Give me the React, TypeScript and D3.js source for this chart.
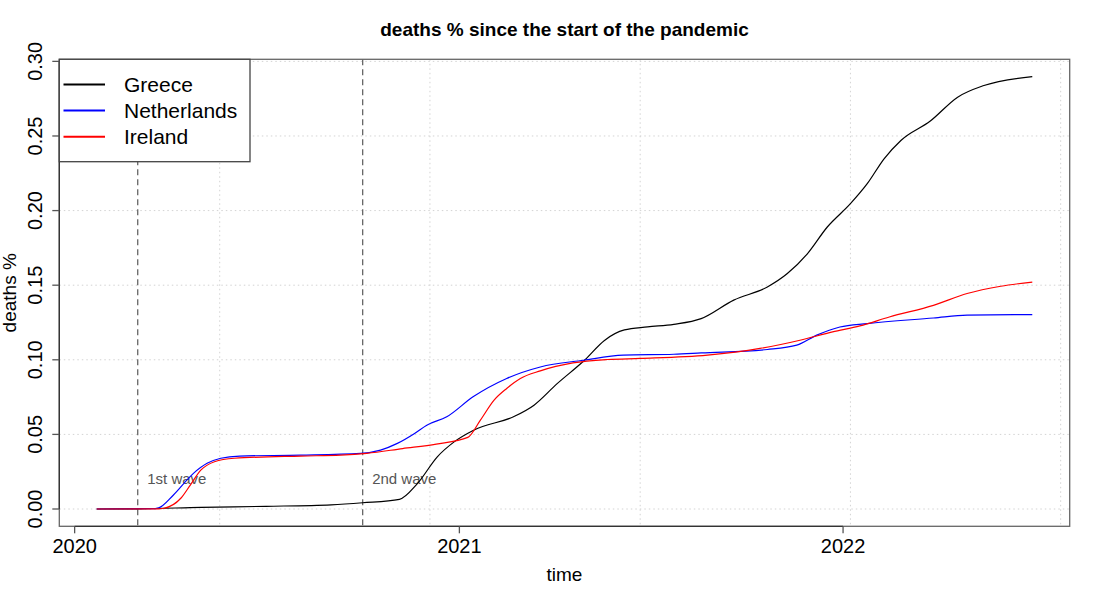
import * as d3 from "d3";
import { useEffect, useRef } from "react";

// cumulative deaths as % of population
const greeceDates = [
  "2020-01-22", "2020-03-01", "2020-04-30", "2020-07-01", "2020-09-01", "2020-10-01",
  "2020-11-05", "2020-11-22", "2020-12-11", "2020-12-27", "2021-01-15", "2021-02-22",
  "2021-03-13", "2021-04-04", "2021-04-30", "2021-05-19", "2021-06-07", "2021-06-29",
  "2021-07-24", "2021-08-19", "2021-09-19", "2021-10-21", "2021-11-09", "2021-11-28",
  "2021-12-17", "2022-01-08", "2022-01-24", "2022-02-09", "2022-02-25", "2022-03-25",
  "2022-04-20", "2022-05-15", "2022-06-30",
];
const greeceValues = [
  0, 0.0001, 0.0011, 0.0018, 0.0028, 0.0042,
  0.0065, 0.017, 0.035, 0.045, 0.053, 0.062,
  0.0696, 0.084, 0.0997, 0.113, 0.12, 0.122,
  0.1238, 0.1276, 0.14, 0.1488, 0.1578, 0.171,
  0.189, 0.2046, 0.218, 0.2347, 0.247, 0.26,
  0.276, 0.2838, 0.2898,
];

const netherlandsDates = [
  "2020-01-22", "2020-03-15", "2020-03-21", "2020-04-04", "2020-04-23", "2020-05-06",
  "2020-05-19", "2020-06-06", "2020-08-03", "2020-09-29", "2020-10-18", "2020-11-03",
  "2020-11-19", "2020-12-01", "2020-12-20", "2021-01-14", "2021-02-15", "2021-03-19",
  "2021-04-29", "2021-06-06", "2021-07-24", "2021-08-19", "2021-10-21", "2021-11-18",
  "2021-12-07", "2021-12-29", "2022-01-24", "2022-03-28", "2022-04-29", "2022-06-30",
];
const netherlandsValues = [
  0, 0.0002, 0.0008, 0.0094, 0.0239, 0.0306,
  0.034, 0.0355, 0.0361, 0.0373, 0.0395, 0.044,
  0.0505, 0.0562, 0.0618, 0.0752, 0.0875, 0.0952,
  0.0997, 0.1031, 0.1037, 0.1046, 0.1069, 0.1098,
  0.1165, 0.122, 0.1243, 0.128, 0.1299, 0.1303,
];

const irelandDates = [
  "2020-01-22", "2020-03-20", "2020-03-26", "2020-04-11", "2020-04-20", "2020-04-30",
  "2020-05-13", "2020-06-01", "2020-08-03", "2020-09-10", "2020-10-05", "2020-11-08",
  "2020-12-10", "2021-01-09", "2021-01-21", "2021-02-03", "2021-02-15", "2021-02-28",
  "2021-03-19", "2021-04-19", "2021-05-22", "2021-06-22", "2021-08-25", "2021-10-14",
  "2021-11-21", "2021-12-22", "2022-01-17", "2022-02-14", "2022-03-28", "2022-04-29",
  "2022-05-31", "2022-06-30",
];
const irelandValues = [
  0, 0.0001, 0.0005, 0.0072, 0.016, 0.026,
  0.0317, 0.034, 0.0355, 0.0361, 0.0373, 0.0405,
  0.0435, 0.048, 0.0596, 0.073, 0.0808, 0.0875,
  0.0926, 0.0979, 0.1002, 0.1009, 0.1031, 0.1076,
  0.1131, 0.1187, 0.1227, 0.1287, 0.1365, 0.1444,
  0.1493, 0.1521,
];

const seriesNames = ["Greece", "Netherlands", "Ireland"];
const seriesColors = ["#000000", "#0000ff", "#ff0000"];

const waveDates = ["2020-03-01", "2020-10-01"];
const waveLabels = ["1st wave", "2nd wave"];

// R grid() lines fall on axTicks of the numeric date (days since 1970)
const gridDays = [18400, 18600, 18800, 19000, 19200];

const FONT = "'Liberation Sans', Arial, Helvetica, sans-serif";

export default function App() {
  const svgRef = useRef<SVGSVGElement | null>(null);

  useEffect(() => {
    const width = 1100;
    const height = 600;
    const box = { left: 59.3, right: 1069.7, top: 59.3, bottom: 526.3 };

    const parse = d3.utcParse("%Y-%m-%d");
    const series = [
      { dates: greeceDates, values: greeceValues },
      { dates: netherlandsDates, values: netherlandsValues },
      { dates: irelandDates, values: irelandValues },
    ].map((s, i) => ({
      name: seriesNames[i],
      color: seriesColors[i],
      points: s.dates.map((d, j) => ({ date: parse(d)!, value: s.values[j] })),
    }));

    const all = series.flatMap((s) => s.points);
    const [t0, t1] = d3.extent(all, (d) => d.date.getTime()) as [number, number];
    const [v0, v1] = d3.extent(all, (d) => d.value) as [number, number];
    // R style 4% padding on both axes
    const tp = (t1 - t0) * 0.04;
    const vp = (v1 - v0) * 0.04;

    const x = d3
      .scaleUtc()
      .domain([new Date(t0 - tp), new Date(t1 + tp)])
      .range([box.left, box.right]);
    const y = d3
      .scaleLinear()
      .domain([v0 - vp, v1 + vp])
      .range([box.bottom, box.top]);

    const svg = d3.select(svgRef.current);
    svg.selectAll("*").remove();
    svg.attr("width", width).attr("height", height);

    svg.append("rect").attr("width", width).attr("height", height).attr("fill", "#fff");

    const yTicks = y.ticks(6);
    const xTicks = x.ticks(d3.utcYear.every(1)!);

    // grid
    svg
      .append("g")
      .selectAll("line")
      .data(yTicks)
      .join("line")
      .attr("x1", box.left)
      .attr("x2", box.right)
      .attr("y1", (d) => y(d))
      .attr("y2", (d) => y(d))
      .attr("stroke", "#d3d3d3")
      .attr("stroke-dasharray", "1.5,3");
    svg
      .append("g")
      .selectAll("line")
      .data(gridDays.map((d) => new Date(d * 864e5)))
      .join("line")
      .attr("x1", (d) => x(d))
      .attr("x2", (d) => x(d))
      .attr("y1", box.top)
      .attr("y2", box.bottom)
      .attr("stroke", "#d3d3d3")
      .attr("stroke-dasharray", "1.5,3");

    // wave markers
    const waves = svg.append("g");
    waveDates.forEach((d, i) => {
      const wx = x(parse(d)!);
      waves
        .append("line")
        .attr("x1", wx)
        .attr("x2", wx)
        .attr("y1", box.top)
        .attr("y2", box.bottom)
        .attr("stroke", "#666")
        .attr("stroke-width", 1.3)
        .attr("stroke-dasharray", "6,4");
      waves
        .append("text")
        .attr("x", wx + 9.5)
        .attr("y", y(0.02))
        .attr("dy", "0.35em")
        .attr("fill", "#555")
        .attr("font-family", FONT)
        .attr("font-size", 15)
        .text(waveLabels[i]);
    });

    // series
    const line = d3
      .line<{ date: Date; value: number }>()
      .x((d) => x(d.date))
      .y((d) => y(d.value))
      .curve(d3.curveMonotoneX);
    svg
      .append("g")
      .selectAll("path")
      .data(series)
      .join("path")
      .attr("d", (d) => line(d.points))
      .attr("fill", "none")
      .attr("stroke", (d) => d.color)
      .attr("stroke-width", 1.2);

    // box
    svg
      .append("rect")
      .attr("x", box.left)
      .attr("y", box.top)
      .attr("width", box.right - box.left)
      .attr("height", box.bottom - box.top)
      .attr("fill", "none")
      .attr("stroke", "#666")
      .attr("stroke-width", 1.3);

    // x axis
    const xa = svg.append("g");
    xa.append("line")
      .attr("x1", x(xTicks[0]))
      .attr("x2", x(xTicks[xTicks.length - 1]))
      .attr("y1", box.bottom)
      .attr("y2", box.bottom)
      .attr("stroke", "#333")
      .attr("stroke-width", 1.3);
    xa.selectAll("line.tick")
      .data(xTicks)
      .join("line")
      .attr("class", "tick")
      .attr("x1", (d) => x(d))
      .attr("x2", (d) => x(d))
      .attr("y1", box.bottom)
      .attr("y2", box.bottom + 7)
      .attr("stroke", "#555")
      .attr("stroke-width", 1.3);
    xa.selectAll("text")
      .data(xTicks)
      .join("text")
      .attr("x", (d) => x(d))
      .attr("y", 553)
      .attr("text-anchor", "middle")
      .attr("font-family", FONT)
      .attr("font-size", 20)
      .text((d) => d3.utcFormat("%Y")(d));

    // y axis
    const ya = svg.append("g");
    ya.append("line")
      .attr("x1", box.left)
      .attr("x2", box.left)
      .attr("y1", y(yTicks[0]))
      .attr("y2", y(yTicks[yTicks.length - 1]))
      .attr("stroke", "#333")
      .attr("stroke-width", 1.3);
    ya.selectAll("line.tick")
      .data(yTicks)
      .join("line")
      .attr("class", "tick")
      .attr("x1", box.left - 7)
      .attr("x2", box.left)
      .attr("y1", (d) => y(d))
      .attr("y2", (d) => y(d))
      .attr("stroke", "#555")
      .attr("stroke-width", 1.3);
    ya.selectAll("text")
      .data(yTicks)
      .join("text")
      .attr("transform", (d) => `translate(42,${y(d)}) rotate(-90)`)
      .attr("text-anchor", "middle")
      .attr("font-family", FONT)
      .attr("font-size", 20)
      .text((d) => d3.format(".2f")(d));

    // titles
    svg
      .append("text")
      .attr("x", (box.left + box.right) / 2)
      .attr("y", 36)
      .attr("text-anchor", "middle")
      .attr("font-family", FONT)
      .attr("font-weight", "bold")
      .attr("font-size", 19)
      .text("deaths % since the start of the pandemic");
    svg
      .append("text")
      .attr("x", (box.left + box.right) / 2)
      .attr("y", 581)
      .attr("text-anchor", "middle")
      .attr("font-family", FONT)
      .attr("font-size", 19)
      .text("time");
    svg
      .append("text")
      .attr("transform", `translate(16,${(box.top + box.bottom) / 2}) rotate(-90)`)
      .attr("text-anchor", "middle")
      .attr("font-family", FONT)
      .attr("font-size", 19)
      .text("deaths %");

    // legend
    const lg = svg.append("g");
    lg.append("rect")
      .attr("x", box.left)
      .attr("y", box.top)
      .attr("width", 250 - box.left)
      .attr("height", 161.7 - box.top)
      .attr("fill", "#fff")
      .attr("stroke", "#444")
      .attr("stroke-width", 1.3);
    const rowY = d3.scalePoint<string>().domain(seriesNames).range([84.5, 136.7]);
    lg.selectAll("line")
      .data(series)
      .join("line")
      .attr("x1", 63.5)
      .attr("x2", 105)
      .attr("y1", (d) => rowY(d.name)!)
      .attr("y2", (d) => rowY(d.name)!)
      .attr("stroke", (d) => d.color)
      .attr("stroke-width", 2);
    lg.selectAll("text")
      .data(series)
      .join("text")
      .attr("x", 124)
      .attr("y", (d) => rowY(d.name)! + 7.5)
      .attr("font-family", FONT)
      .attr("font-size", 21)
      .text((d) => d.name);
  }, []);

  return <svg ref={svgRef} style={{ position: "absolute", left: 0, top: 0 }}></svg>;
}
